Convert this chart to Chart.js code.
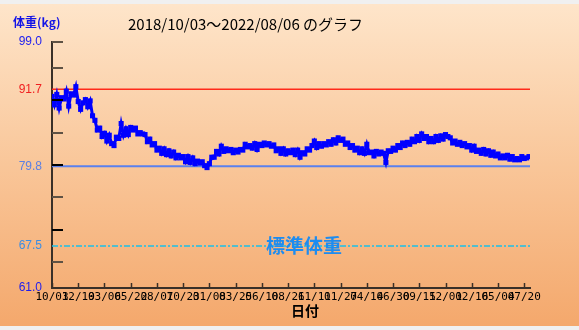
<!DOCTYPE html>
<html><head><meta charset="utf-8">
<script src="https://cdn.jsdelivr.net/npm/chart.js@4/dist/chart.umd.min.js"></script>
<style>html,body{margin:0;padding:0;background:#f0f0f0}canvas{display:block}</style>
</head><body>
<canvas id="c" width="579" height="330"></canvas>
<script>
// ---- data ----
const titleText = "2018/10/03～2022/08/06 のグラフ";
const yUnitText = "体重(kg)";
const xTitleText = "日付";
const standardLabel = "標準体重";
const totalDays = 1403;           // 2018/10/03 -> 2022/08/06
const sampleStepDays = 7;         // one reading per week
const weights = [
90.6,89.3,90.9,88.8,90.4,90.2,91.4,89.1,91.0,90.8,
92.1,89.8,88.6,89.6,90.1,89.0,89.9,87.6,86.9,85.4,
85.7,84.4,84.9,83.7,84.6,83.3,83.0,84.3,84.1,86.4,
84.6,85.6,84.7,85.8,85.4,85.7,84.8,85.0,84.8,84.7,
83.6,84.0,83.1,83.3,82.3,82.6,81.8,82.5,81.6,82.2,
81.4,82.0,81.1,81.5,81.1,81.3,80.5,81.3,80.4,81.1,
80.2,80.6,80.3,80.5,79.9,79.6,80.2,81.2,81.2,82.1,
81.7,82.9,82.1,82.5,82.2,82.4,81.9,82.3,82.0,82.4,
82.3,83.2,82.8,83.0,82.6,83.3,82.4,83.2,83.0,83.4,
83.1,83.3,82.9,83.1,82.2,82.5,81.8,82.5,81.7,82.2,
81.9,82.3,81.6,82.3,81.2,81.9,81.7,82.5,82.3,83.0,
83.7,82.7,83.3,82.9,83.3,83.1,83.6,83.2,83.9,83.4,
84.2,83.8,84.0,83.2,83.4,82.7,83.0,82.3,82.6,81.9,
82.5,81.8,83.2,81.9,82.0,81.4,82.1,81.7,82.0,81.8,
80.4,82.2,82.1,82.6,82.3,83.0,82.7,83.4,83.0,83.5,
83.2,84.0,83.6,84.4,83.8,84.8,84.1,84.4,83.6,84.1,
83.6,84.4,83.8,84.5,84.0,84.7,84.4,84.2,83.4,83.7,
83.2,83.5,83.0,83.3,82.8,83.0,82.3,82.9,82.1,82.3,
81.8,82.4,81.7,82.2,81.5,82.0,81.4,81.7,81.1,81.4,
81.1,81.5,80.9,81.3,80.8,81.0,80.8,81.3,81.0,81.1,
81.3
];
const xTickDays = [0,77,154,231,308,385,462,539,616,693,770,847,924,1001,1078,1155,1232,1309,1386];
const xTickLabels = ["10/03","12/19","03/06","05/22","08/07","10/23","01/08","03/25","06/10","08/26","11/11","01/27","04/14","06/30","09/15","12/01","02/16","05/04","07/20"];
const yTickValues = [61.0, 67.5, 79.8, 91.7, 99.0];
const yTickLabels = ["61.0","67.5","79.8","91.7","99.0"];
const yTickColors = ["#1c1cf0","#3a8ee6","#5b80e4","#f02020","#1c1cf0"];
const yMarkValues = [99, 95, 90, 85, 80, 75, 70, 65];
const yMarkColors = ["#5f5244","#5f5244","#000000","#5f5244","#000000","#5f5244","#000000","#5f5244"];
const upperLine = 91.7;
const targetLine = 79.8;
const standardWeight = 67.5;

// ---- build ----
const points = weights.map((w, i) => ({x: i * sampleStepDays, y: w}));
const hline = v => [{x: 0, y: v}, {x: totalDays, y: v}];

const bgPlugin = {
  id: 'bg',
  beforeDraw(chart) {
    const ctx = chart.ctx, W = chart.width, H = chart.height;
    ctx.save();
    ctx.fillStyle = '#f0f0f0';
    ctx.fillRect(0, 0, W, H);
    const g = ctx.createLinearGradient(0, 4, 0, 326);
    g.addColorStop(0, '#fee5ca');
    g.addColorStop(0.5, '#f9c699');
    g.addColorStop(1, '#f4a86c');
    ctx.fillStyle = g;
    ctx.fillRect(0, 4, W, 322);
    ctx.restore();
  }
};

const decoPlugin = {
  id: 'deco',
  afterDraw(chart) {
    const ctx = chart.ctx, xs = chart.scales.x, ys = chart.scales.y;
    ctx.save();
    ctx.lineWidth = 2;
    yMarkValues.forEach((v, i) => {
      const y = Math.round(ys.getPixelForValue(v));
      ctx.strokeStyle = yMarkColors[i];
      ctx.beginPath(); ctx.moveTo(xs.left, y); ctx.lineTo(xs.left + 11, y); ctx.stroke();
    });
    ctx.strokeStyle = '#3a3028';
    ctx.lineWidth = 1.5;
    xTickDays.forEach(d => {
      const x = Math.round(xs.getPixelForValue(d)) + 0.5;
      ctx.beginPath(); ctx.moveTo(x, ys.bottom); ctx.lineTo(x, ys.bottom - 5); ctx.stroke();
    });
    ctx.textBaseline = 'middle';
    ctx.fillStyle = '#000';
    ctx.font = '15px "Noto Sans CJK JP"';
    ctx.textAlign = 'left';
    ctx.fillText(titleText, 128, 24);
    ctx.fillStyle = '#1414e6';
    ctx.font = 'bold 12px "Noto Sans CJK JP"';
    ctx.fillText(yUnitText, 13, 22);
    ctx.fillStyle = '#000';
    ctx.font = 'bold 14px "Noto Sans CJK JP"';
    ctx.textAlign = 'center';
    ctx.fillText(xTitleText, 305, 311);
    ctx.fillStyle = '#1e8cf0';
    ctx.font = 'bold 19px "Noto Sans CJK JP"';
    ctx.fillText(standardLabel, 304, ys.getPixelForValue(standardWeight));
    ctx.restore();
  }
};

new Chart(document.getElementById('c'), {
  type: 'line',
  data: {
    datasets: [
      {data: points, borderColor: '#0000ff', backgroundColor: '#0000ff', borderWidth: 3,
       pointStyle: 'rect', pointRadius: 3.6, pointBorderWidth: 0, tension: 0},
      {data: hline(upperLine), borderColor: '#ff2a1a', borderWidth: 1.5, pointRadius: 0},
      {data: hline(targetLine), borderColor: '#5a80ee', borderWidth: 2, pointRadius: 0},
      {data: hline(standardWeight), borderColor: '#1cc0e8', borderWidth: 1.5, borderDash: [6, 2, 2, 2], pointRadius: 0}
    ]
  },
  options: {
    responsive: false, animation: false, devicePixelRatio: 1,
    layout: {padding: {top: 42, right: 49, bottom: 0, left: 0}},
    plugins: {legend: {display: false}, tooltip: {enabled: false}, title: {display: false}},
    scales: {
      x: {
        type: 'linear', min: 0, max: totalDays,
        afterFit(s) { s.height = 42; },
        afterBuildTicks(s) { s.ticks = xTickDays.map(d => ({value: d})); },
        grid: {display: false, drawTicks: false},
        border: {display: true, color: '#3a3028', width: 2},
        ticks: {autoSkip: false, maxRotation: 0, minRotation: 0, padding: 3, color: '#000',
          font: {family: 'DejaVu Sans Mono', size: 11},
          callback: (v, i) => xTickLabels[i]}
      },
      y: {
        type: 'linear', min: 61, max: 99,
        afterFit(s) { s.width = 52; },
        afterBuildTicks(s) { s.ticks = yTickValues.map(v => ({value: v})); },
        grid: {display: false, drawTicks: false},
        border: {display: true, color: '#3a3028', width: 2},
        ticks: {autoSkip: false, padding: 10,
          font: {family: 'Liberation Sans', size: 12},
          color: c => yTickColors[c.index],
          callback: (v, i) => yTickLabels[i]}
      }
    }
  },
  plugins: [bgPlugin, decoPlugin]
});
</script>
</body></html>
